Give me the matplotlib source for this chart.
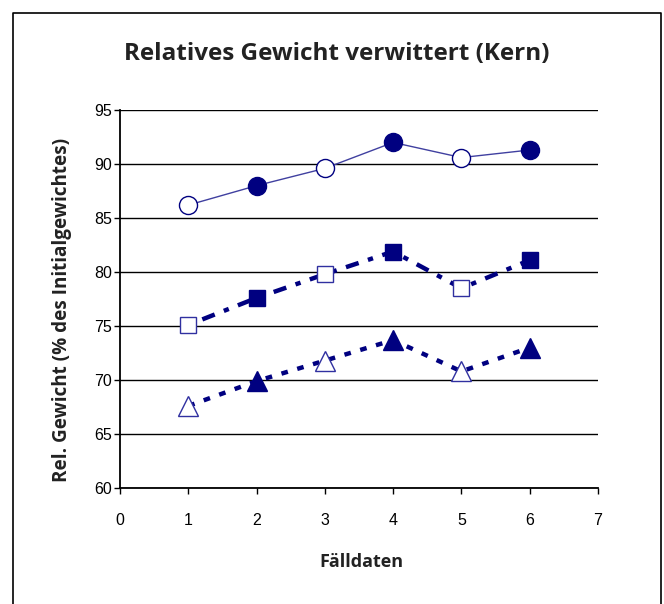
import matplotlib.pyplot as plt
from matplotlib.lines import Line2D

# data
x = [1, 2, 3, 4, 5, 6]
kreis = [86.2, 88.0, 89.6, 92.0, 90.6, 91.3]
quadrat = [75.1, 77.6, 79.8, 81.9, 78.5, 81.1]
dreieck = [67.6, 69.9, 71.8, 73.7, 70.8, 73.0]
gefuellt = [False, True, False, True, False, True]

navy = "#000080"
plt.rcParams["font.family"] = ["Liberation Sans", "DejaVu Sans"]
lab_font = ["Open Sans", "DejaVu Sans"]

fig = plt.figure(figsize=(6.64, 6.04), dpi=100)
ax = fig.add_axes([0.1807, 0.192, 0.7199, 0.6258])

# lines
ax.plot(x, kreis, color="#4040a0", lw=1.0, zorder=2)
ax.plot(x, quadrat, color=navy, lw=3.2, dashes=[1.2, 2.2, 3, 2.2], zorder=2)
ax.plot(x, dreieck, color=navy, lw=3.2, dashes=[1.5, 2.2], zorder=2)

# markers: open / filled alternating
for xi, k, q, d, f in zip(x, kreis, quadrat, dreieck, gefuellt):
    fc = navy if f else "white"
    ec = navy if f else "#3030a0"
    ax.plot(xi, k, marker="o", ms=13, mfc=fc, mec=navy, mew=1.0, zorder=3)
    ax.plot(xi, q, marker="s", ms=12, mfc=fc, mec=ec, mew=1.0, zorder=3)
    ax.plot(xi, d, marker="^", ms=14, mfc=fc, mec=ec, mew=1.0, zorder=3)

ax.set_xlim(0, 7)
ax.set_ylim(60, 95)
ax.set_xticks(range(0, 8))
ax.set_yticks(range(60, 96, 5))
ax.yaxis.grid(True, color="black", lw=1.0)
ax.set_axisbelow(True)
for s in ["top", "right"]:
    ax.spines[s].set_visible(False)
for s in ["left", "bottom"]:
    ax.spines[s].set_linewidth(1.3)
ax.tick_params(axis="both", direction="out", length=4, width=1, labelsize=11.5, colors="black")
ax.tick_params(axis="x", pad=14)
ax.tick_params(axis="y", pad=2)

fig.text(0.507, 0.91, "Relatives Gewicht verwittert (Kern)", ha="center", va="center",
         fontsize=17.5, fontweight="bold", family=lab_font, color="#222222")
fig.text(0.544, 0.07, "Fälldaten", ha="center", va="center",
         fontsize=13, fontweight="bold", family=lab_font, color="#222222")
fig.text(0.094, 0.487, "Rel. Gewicht (% des Initialgewichtes)", ha="center", va="center",
         rotation=90, fontsize=13.6, fontweight="bold", family=lab_font, color="#222222")

# outer frame (left, top, right)
fig.add_artist(Line2D([0.019, 0.019, 0.995, 0.995], [0.0, 0.979, 0.979, 0.0],
                      transform=fig.transFigure, color="black", lw=1.2))

fig.savefig("out.png", dpi=100)
